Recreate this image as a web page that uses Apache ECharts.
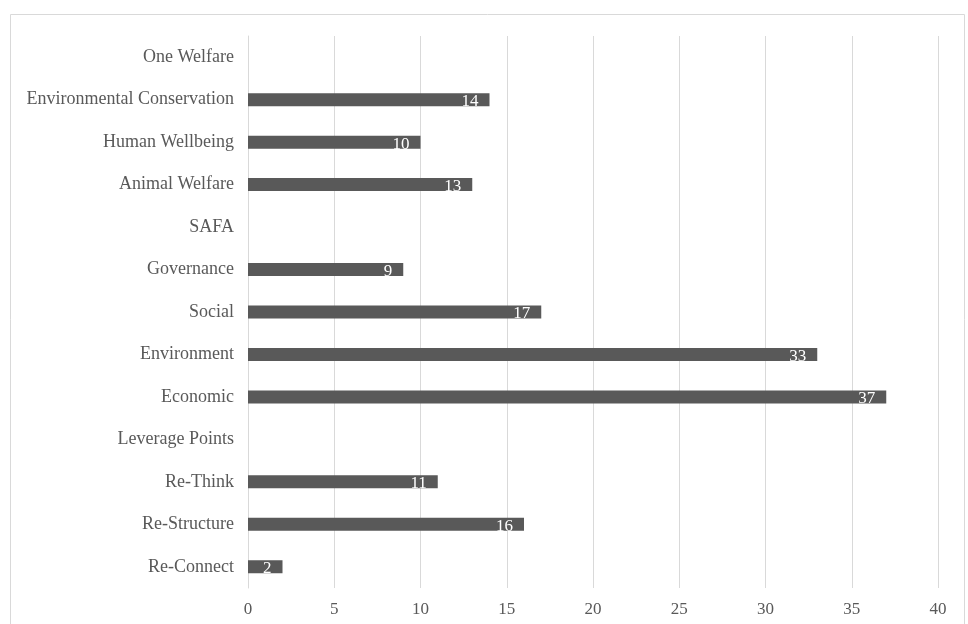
<!DOCTYPE html>
<html lang="en">
<head>
    <meta charset="UTF-8">
    <title>Bar chart</title>
    <script src="https://cdn.jsdelivr.net/npm/echarts@6/dist/echarts.min.js"></script>
    <style>
        html, body { margin: 0; padding: 0; background: #fff; }
        #chart { width: 968px; height: 624px; }
    </style>
</head>
<body>
    <div id="chart"></div>
    <script>
        // categories listed bottom to top
        const categories = [
            'Re-Connect', 'Re-Structure', 'Re-Think', 'Leverage Points',
            'Economic', 'Environment', 'Social', 'Governance', 'SAFA',
            'Animal Welfare', 'Human Wellbeing', 'Environmental Conservation', 'One Welfare'
        ];
        const counts = [2, 16, 11, null, 37, 33, 17, 9, null, 13, 10, 14, null];
        const xTicks = [0, 5, 10, 15, 20, 25, 30, 35, 40];

        const font = '"Liberation Serif", "Times New Roman", serif';
        const chart = echarts.init(document.getElementById('chart'));

        chart.setOption({
            animation: false,
            graphic: [{
                type: 'rect',
                shape: { x: 10.5, y: 14.5, width: 954, height: 640 },
                style: { fill: 'none', stroke: '#d9d9d9', lineWidth: 1 }
            }],
            grid: { left: 248, right: 30, top: 36, bottom: 36, containLabel: false },
            xAxis: {
                type: 'value',
                min: xTicks[0],
                max: xTicks[xTicks.length - 1],
                interval: 5,
                axisLine: { show: false },
                axisTick: { show: false },
                splitLine: { lineStyle: { color: '#d9d9d9', width: 1 } },
                axisLabel: { color: '#595959', fontFamily: font, fontSize: 17, margin: 13 }
            },
            yAxis: {
                type: 'category',
                data: categories,
                axisLine: { show: true, lineStyle: { color: '#d9d9d9' } },
                axisTick: { show: false },
                axisLabel: { color: '#595959', fontFamily: font, fontSize: 18, margin: 14, padding: [3, 0, 0, 0] }
            },
            series: [{
                type: 'bar',
                data: counts,
                barWidth: 13,
                itemStyle: { color: '#595959' },
                label: {
                    show: true,
                    position: 'insideRight',
                    distance: 11,
                    offset: [0, 2],
                    color: '#ffffff',
                    fontFamily: font,
                    fontSize: 17
                }
            }]
        });
    </script>
</body>
</html>
